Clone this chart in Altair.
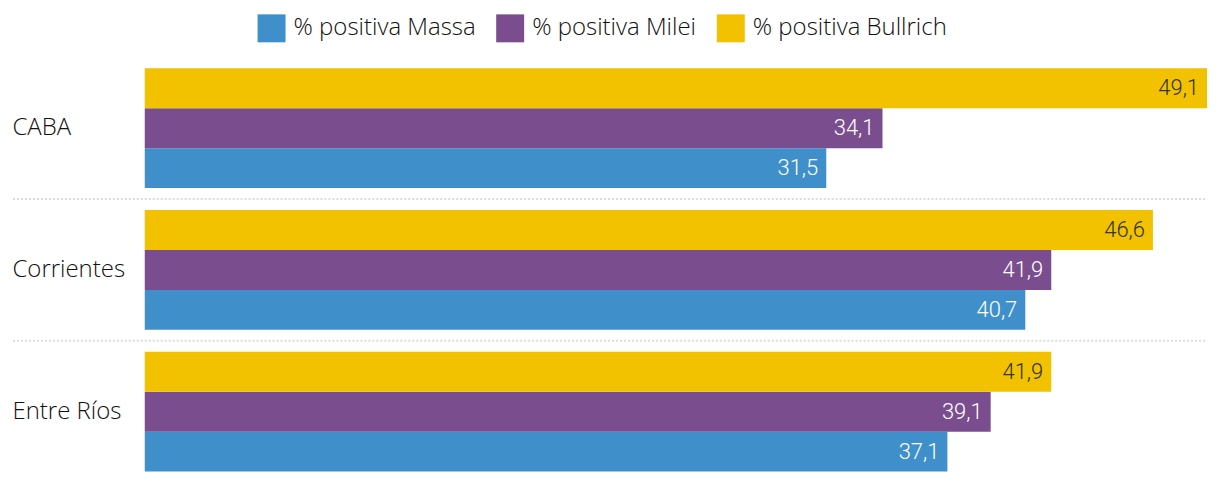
import altair as alt
import pandas as pd

states = ["CABA", "Corrientes", "Entre Ríos"]
massa = [31.5, 40.7, 37.1]
milei = [34.1, 41.9, 39.1]
bullrich = [49.1, 46.6, 41.9]
series = ["% positiva Massa", "% positiva Milei", "% positiva Bullrich"]
colors = ["#3f8fcb", "#7a4e8e", "#f2c200"]

rows = []
for i, s in enumerate(states):
    for name, vals in zip(series, [massa, milei, bullrich]):
        rows.append({"state": s, "series": name, "value": vals[i],
                     "label": f"{vals[i]:.1f}".replace(".", ",")})
df = pd.DataFrame(rows)
sep = pd.DataFrame({"state": states[:-1]})

FONT = "Open Sans"
NUMFONT = "Roboto"
W, H = 1064, 426

ymain = alt.Y("state:N", scale=alt.Scale(domain=states, paddingInner=22/142, paddingOuter=11/142),
              axis=alt.Axis(title=None, domain=False, ticks=False, tickSize=0, labelAlign="left",
                            labelPadding=133, labelFontSize=24, labelColor="#111", labelFont=FONT,
                            labelFontWeight=300))
yoff = alt.YOffset("series:N", scale=alt.Scale(domain=series[::-1], paddingInner=0, paddingOuter=0))
x = alt.X("value:Q", scale=alt.Scale(domain=[0, 49.1], nice=False, zero=True), axis=None)

bars = alt.Chart(df).mark_bar().encode(
    x=x, y=ymain, yOffset=yoff,
    color=alt.Color("series:N", scale=alt.Scale(domain=series, range=colors),
                    legend=alt.Legend(title=None, orient="none", legendX=113, legendY=-43,
                                      direction="horizontal", symbolType="square", symbolSize=784,
                                      symbolStrokeWidth=0, symbolOpacity=1, labelFontSize=24,
                                      labelFont=FONT, labelFontWeight=300, labelColor="#111",
                                      labelOffset=8, labelLimit=0, columnPadding=20, padding=0)))

txt_white = alt.Chart(df).transform_filter(alt.datum.series != series[2]).mark_text(
    align="right", baseline="middle", dx=-8, fontSize=22, font=NUMFONT, fontWeight=300, color="white"
).encode(x=x, y=ymain, yOffset=yoff, text="label:N")

txt_dark = alt.Chart(df).transform_filter(alt.datum.series == series[2]).mark_text(
    align="right", baseline="middle", dx=-8, fontSize=22, font=NUMFONT, fontWeight=300, color="#333"
).encode(x=x, y=ymain, yOffset=yoff, text="label:N")

rules = alt.Chart(sep).mark_rule(strokeDash=[2, 2], color="#dcdcdc", strokeWidth=2, yOffset=11).encode(
    y=alt.Y("state:N", bandPosition=1), x=alt.value(-132), x2=alt.value(W))

chart = alt.layer(rules, bars, txt_white, txt_dark).properties(
    width=W, height=H,
    padding={"left": 12, "top": 14, "right": 12, "bottom": 1}
).configure(font=FONT).configure_view(stroke=None)

chart.save("out.html", embed_options={"renderer": "svg", "actions": False})
